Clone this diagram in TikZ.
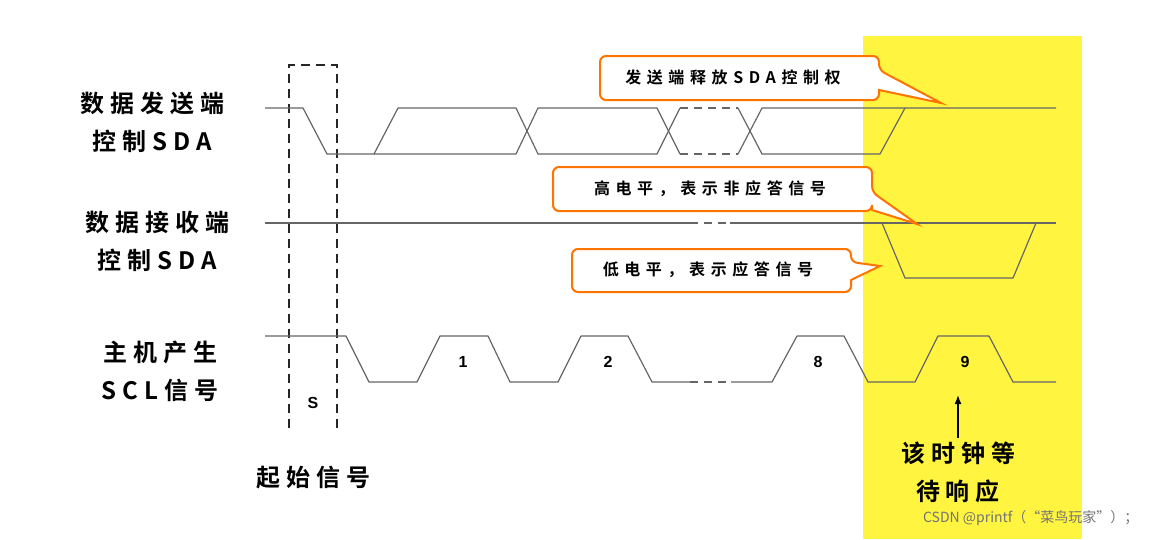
\documentclass[tikz,border=0pt]{standalone}
\usepackage{fontspec}
\usetikzlibrary{arrows.meta}
\setmainfont{Liberation Sans}
\newfontfamily\cjk{Noto Sans CJK SC}
\newfontfamily\cjkb{Noto Sans CJK SC Bold}[LetterSpace=25]
\newfontfamily\cjkc{Noto Sans CJK SC Bold}[LetterSpace=35]
\begin{document}
\begin{tikzpicture}[x=1pt,y=-1pt,
  sig/.style={draw=black!60,line width=1.2pt,line join=round},
  dsig/.style={sig,dash pattern=on 8pt off 6pt},
  lbl/.style={font=\cjkb\fontsize{24}{38}\selectfont,align=center},
  call/.style={draw=orange!90!red,line width=2pt,fill=white,rounded corners=6pt},
  calltxt/.style={font=\cjkc\fontsize{16}{18}\selectfont},
  num/.style={font=\bfseries\fontsize{16}{18}\selectfont}]
\useasboundingbox (0,0) rectangle (1150,539);
\fill[yellow!75!white] (863,36) rectangle (1082,539);
% dashed start box
\draw[black!85,line width=1.1pt,dash pattern=on 9pt off 6pt] (289,428) -- (289,65) -- (337,65) -- (337,428);
% SDA sender
\draw[sig] (265,108) -- (303,108) -- (327,154) -- (374,154) -- (398,108) -- (516,108) -- (538,154) -- (657,154) -- (680,108);
\draw[sig] (374,154) -- (516,154) -- (538,108) -- (657,108) -- (680,154);
\draw[dsig] (680,108) -- (738,108) (680,154) -- (738,154);
\draw[sig] (738,108) -- (762,154) -- (880,154) -- (905,108);
\draw[sig] (738,154) -- (762,108) -- (1056,108);
% SDA receiver
\draw[sig] (265,223) -- (690,223);
\draw[dsig] (690,223) -- (730,223);
\draw[sig] (730,223) -- (1056,223);
\draw[sig] (882,223) -- (905,278) -- (1013,278) -- (1036,223);
% SCL
\draw[sig] (265,336) -- (346,336) -- (369,382) -- (417,382) -- (440,336) -- (488,336) -- (510,382) -- (558,382) -- (581,336) -- (628,336) -- (652,382) -- (690,382);
\draw[dsig] (690,382) -- (731,382);
\draw[sig] (731,382) -- (772,382) -- (797,336) -- (844,336) -- (868,382) -- (915,382) -- (938,336) -- (989,336) -- (1013,382) -- (1056,382);
% callouts
\draw[call] (600,56) -- (879,56) -- (879,70) [sharp corners] -- (941,103) -- (879,90) [rounded corners=6pt] -- (879,100) -- (600,100) -- cycle;
\node[calltxt] (c1) at (733,77) {发送端释放SDA控制权};
\draw[call] (553,167) -- (872,167) -- (872,192) [sharp corners] -- (917,224) -- (872,210) [rounded corners=6pt] -- (872,211) -- (553,211) -- cycle;
\node[calltxt] (c2) at (710,189) {高电平，表示非应答信号};
\draw[call] (572,249) -- (851,249) -- (851,262) [sharp corners] -- (880,266) -- (851,280) [rounded corners=6pt] -- (851,292) -- (572,292) -- cycle;
\node[calltxt] (c3) at (708,270) {低电平，表示应答信号};
% numbers
\node[num] (n1) at (463,362) {1};
\node[num] (n2) at (608,362) {2};
\node[num] (n8) at (818,362) {8};
\node[num] (n9) at (965,362) {9};
\node[num] (s) at (313,403) {S};
% labels
\node[lbl] (l1) at (152,122) {数据发送端\\控制SDA};
\node[lbl] (l2) at (157,241) {数据接收端\\控制SDA};
\node[lbl] (l3) at (160,371) {主机产生\\SCL信号};
\node[lbl] (st) at (313,477) {起始信号};
\node[lbl] (wt) at (958,472) {该时钟等\\待响应};
\coordinate (ar) at (958,395);
\draw[-{Latex[length=9pt,width=7pt]},line width=1.5pt] (958,438) -- (ar);
\node[font=\cjk\fontsize{14}{16}\selectfont,text=black!55,anchor=east] (wm) at (1142,518) {CSDN @printf（“菜鸟玩家”）；};
\end{tikzpicture}
\end{document}
